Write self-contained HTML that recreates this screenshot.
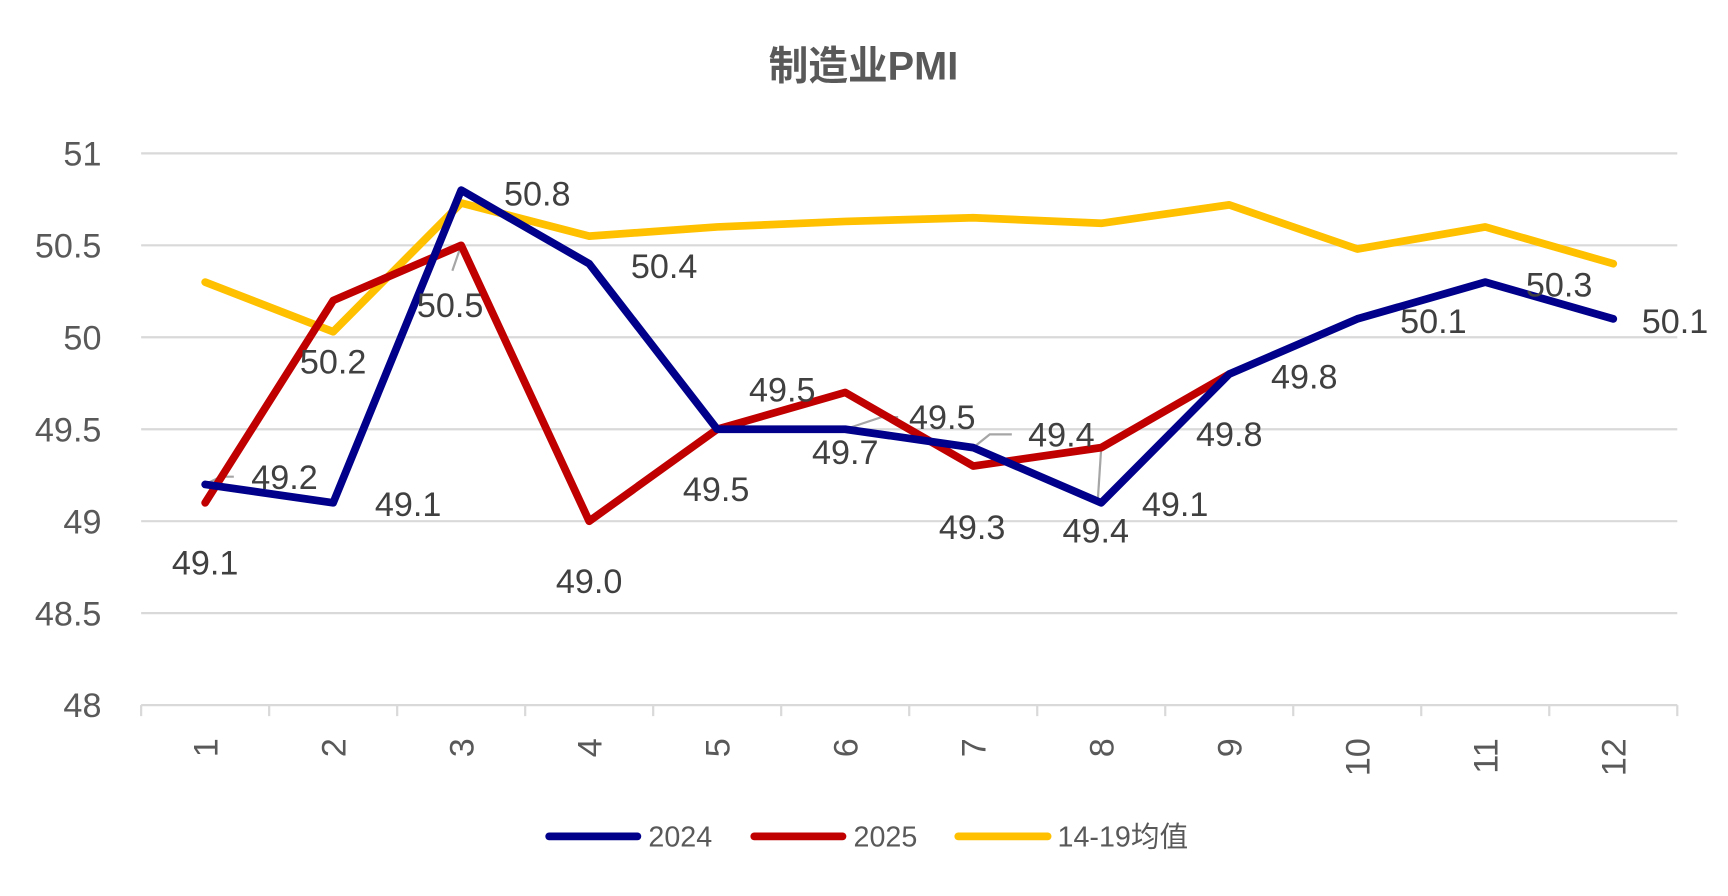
<!DOCTYPE html>
<html><head><meta charset="utf-8"><style>
html,body{margin:0;padding:0;background:#fff;width:1728px;height:896px;overflow:hidden}
svg{display:block}
text{font-family:"Liberation Sans","Noto Sans CJK SC",sans-serif}
</style></head><body>
<svg id="chart" width="1728" height="896" viewBox="0 0 1567 812" preserveAspectRatio="none" xmlns="http://www.w3.org/2000/svg">
<text x="783" y="72" text-anchor="middle" font-size="36" font-weight="bold" fill="#595959">制造业PMI</text>
<g id="grid"></g><g id="axes"></g><g id="leaders"></g><g id="lines"></g><g id="labels"></g>
<g>
<line x1="498" y1="758" x2="578" y2="758" stroke="#00008B" stroke-width="7" stroke-linecap="round"/>
<text x="588" y="767" font-size="26" fill="#595959">2024</text>
<line x1="684" y1="758" x2="764" y2="758" stroke="#C00000" stroke-width="7" stroke-linecap="round"/>
<text x="774" y="767" font-size="26" fill="#595959">2025</text>
<line x1="869" y1="758" x2="950" y2="758" stroke="#FFC000" stroke-width="7" stroke-linecap="round"/>
<text x="959" y="767" font-size="26" fill="#595959">14-19均值</text>
</g>
</svg>
<script>
const categories = ["1","2","3","4","5","6","7","8","9","10","11","12"];
const yTicks = [48, 48.5, 49, 49.5, 50, 50.5, 51];
const yTickLabels = ["48","48.5","49","49.5","50","50.5","51"];
const series2024 = [49.2,49.1,50.8,50.4,49.5,49.5,49.4,49.1,49.8,50.1,50.3,50.1];
const series2025 = [49.1,50.2,50.5,49.0,49.5,49.7,49.3,49.4,49.8];
const seriesAvg = [50.3,50.03,50.73,50.55,50.6,50.63,50.65,50.62,50.72,50.48,50.6,50.4];
const labels2024 = ["49.2","49.1","50.8","50.4","49.5","49.5","49.4","49.1","49.8","50.1","50.3","50.1"];
const labels2025 = ["49.1","50.2","50.5","49.0","49.5","49.7","49.3","49.4","49.8"];
// label offsets (styling)
const off2024 = [[72,-7],[68,1],[69,3],[68,2],[-1,54],[88,-11],[80,-12],[67,1],[68,2],[69,2],[67,2],[56,2]];
const off2025 = [[0,54],[0,55],[-10,54],[0,54],[59,-36],[0,54],[-1,55],[-5,75],[0,54]];

const NS="http://www.w3.org/2000/svg";
const X0=128,X1=1521,Y0=639,Y1=139,YMIN=48,YMAX=51;
const band=(X1-X0)/categories.length;
function xPos(i){return X0+band*(i+0.5);}
function yPos(v){return Y0-(v-YMIN)/(YMAX-YMIN)*(Y0-Y1);}
function mk(tag,attrs,parent){const e=document.createElementNS(NS,tag);for(const k in attrs)e.setAttribute(k,attrs[k]);parent.appendChild(e);return e;}
const grid=document.getElementById('grid'),axes=document.getElementById('axes'),lines=document.getElementById('lines'),labels=document.getElementById('labels'),leaders=document.getElementById('leaders');
yTicks.forEach((t,i)=>{
  const y=yPos(t);
  if(t!==YMIN){const g=mk('line',{x1:X0,x2:X1,y1:y,y2:y,stroke:'#D9D9D9','stroke-width':2},grid);
  
  }
  const tx=mk('text',{x:92,y:y+11,'text-anchor':'end','font-size':31,fill:'#595959'},axes);
  tx.textContent=yTickLabels[i];
  
  
});
const ax=mk('line',{x1:X0,x2:X1,y1:Y0,y2:Y0,stroke:'#D9D9D9','stroke-width':2},axes);


for(let i=0;i<=categories.length;i++){
  const x=X0+band*i;
  const tk=mk('line',{x1:x,x2:x,y1:Y0,y2:Y0+10,stroke:'#D9D9D9','stroke-width':2},axes);
  
  
}
categories.forEach((c,i)=>{
  const x=xPos(i),y=Y0+30;
  const tx=mk('text',{x:x,y:y,transform:`rotate(-90 ${x} ${y})`,'text-anchor':'end','font-size':31,fill:'#595959',dy:'11'},axes);
  tx.textContent=c;
  
  
});
function drawLine(data,color,name){
  const pts=data.map((v,i)=>xPos(i)+','+yPos(v)).join(' ');
  const p=mk('polyline',{points:pts,fill:'none',stroke:color,'stroke-width':7,'stroke-linejoin':'round','stroke-linecap':'round'},lines);
  
  
}
drawLine(seriesAvg,'#FFC000','line-avg-14-19');
drawLine(series2025,'#C00000','line-2025');
drawLine(series2024,'#00008B','line-2024');
function drawLabels(data,txt,off,name){
  data.forEach((v,i)=>{
    const t=mk('text',{x:xPos(i)+off[i][0],y:yPos(v)+off[i][1]+11,'text-anchor':'middle','font-size':31,fill:'#404040'},labels);
    t.textContent=txt[i];
    
    
  });
}
drawLabels(series2024,labels2024,off2024,'data-label-2024');
drawLabels(series2025,labels2025,off2025,'data-label-2025');
function leader(px,py,pts){
  const l=mk('polyline',{points:px+','+py+' '+pts,fill:'none',stroke:'#A6A6A6','stroke-width':2},leaders);
  
  
}
leader(xPos(0),yPos(series2024[0]),`${xPos(0)+14},${yPos(series2024[0])-7} ${xPos(0)+26},${yPos(series2024[0])-7}`);
leader(xPos(5),yPos(series2024[5]),`${xPos(5)+33},${yPos(series2024[5])-11} ${xPos(5)+48},${yPos(series2024[5])-11}`);
leader(xPos(6),yPos(series2024[6]),`${xPos(6)+15},${yPos(series2024[6])-12} ${xPos(6)+35},${yPos(series2024[6])-12}`);
leader(xPos(2),yPos(series2025[2]),`${xPos(2)-8},${yPos(series2025[2])+23}`);
leader(xPos(7),yPos(series2025[7]),`${xPos(7)-3},${yPos(series2025[7])+46}`);
</script>
</body></html>
